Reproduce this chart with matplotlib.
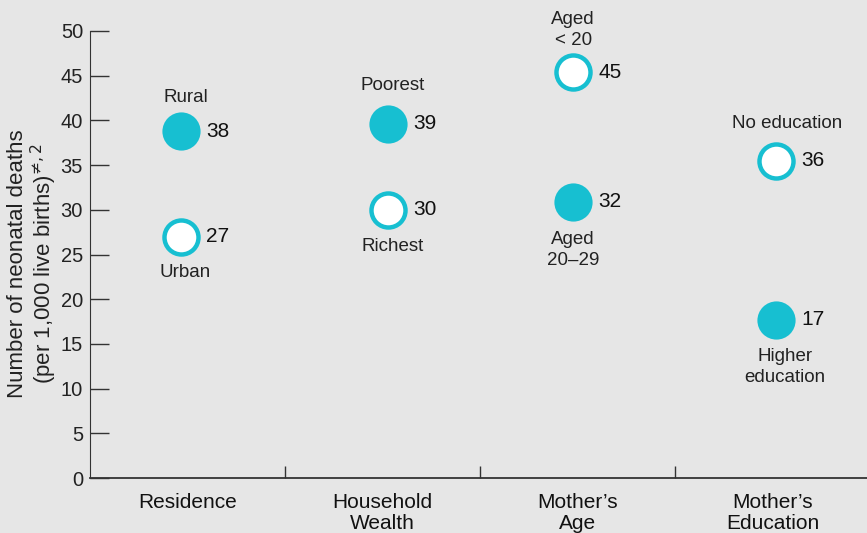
import matplotlib.pyplot as plt

plt.rcParams['font.family'] = ['Liberation Sans', 'DejaVu Sans']

# categories along the x axis
categories = ['Residence', 'Household\nWealth', 'Mother\u2019s\nAge', 'Mother\u2019s\nEducation']

# group, name, plotted value, value label, filled marker
groups = [0, 0, 1, 1, 2, 2, 3, 3]
names = ['Rural', 'Urban', 'Poorest', 'Richest', 'Aged\n< 20', 'Aged\n20\u201329',
         'No education', 'Higher\neducation']
values = [38.8, 27.0, 39.6, 30.0, 45.4, 30.9, 35.5, 17.7]
value_labels = ['38', '27', '39', '30', '45', '32', '36', '17']
filled = [True, False, True, False, False, True, False, True]

# small horizontal shift of each dot inside its group (data units)
shift = [-0.033, -0.033, 0.028, 0.028, -0.023, -0.023, 0.018, 0.018]
# name placement: offset in pixels from the dot
name_off = [(5, 34), (4, -36), (5, 38), (5, -37), (0, 42), (0, -48), (11, 37), (9, -47)]

cyan = '#17bfd1'
bg = '#e6e6e6'

fig = plt.figure(figsize=(8.67, 5.33), dpi=100, facecolor=bg)
ax = fig.add_axes([0.1038, 0.103, 0.9, 0.839], facecolor=bg)

for g, n, v, lab, f, s, off in zip(groups, names, values, value_labels, filled, shift, name_off):
    x = g + 0.5 + s
    if f:
        ax.plot(x, v, 'o', ms=27.5, mfc=cyan, mec=cyan, mew=0, clip_on=False, zorder=3)
    else:
        ax.plot(x, v, 'o', ms=24.5, mfc='white', mec=cyan, mew=3.2, clip_on=False, zorder=3)
    ax.annotate(lab, (x, v), xytext=(25, 0), textcoords='offset pixels',
                ha='left', va='center', fontsize=15, color='#111111')
    ax.annotate(n, (x, v), xytext=off, textcoords='offset pixels',
                ha='center', va='center', fontsize=13.5, color='#222222',
                linespacing=1.3)

ax.set_xlim(0, 4)
ax.set_ylim(0, 50)
ax.set_yticks(range(0, 51, 5))
ax.set_xticks([1, 2, 3])
ax.set_xticklabels([])
ax.set_xticks([0.5, 1.5, 2.5, 3.5], minor=True)
ax.set_xticklabels(categories, minor=True, fontsize=15)
ax.tick_params(axis='x', which='minor', length=0, pad=11)
ax.tick_params(axis='x', which='major', direction='in', length=9, width=1, color='#333333')
ax.tick_params(axis='y', direction='in', length=14, width=1, color='#333333',
               labelsize=14.5, pad=5)
for lbl in ax.get_yticklabels():
    lbl.set_color('#222222')
for lbl in ax.get_xticklabels(minor=True):
    lbl.set_color('#111111')
    lbl.set_linespacing(1.1)

for side in ['top', 'right']:
    ax.spines[side].set_visible(False)
ax.spines['left'].set_color('#333333')
ax.spines['bottom'].set_color('#333333')
ax.spines['bottom'].set_linewidth(1.3)

ax.set_ylabel('Number of neonatal deaths\n(per 1,000 live births)$^{\u2260,2}$', fontsize=16,
              color='#222222', linespacing=1.0)
ax.yaxis.set_label_coords(-0.073, 0.48)
ax.yaxis.label.set_verticalalignment('center')

fig.savefig('out.png', dpi=100, facecolor=bg)
